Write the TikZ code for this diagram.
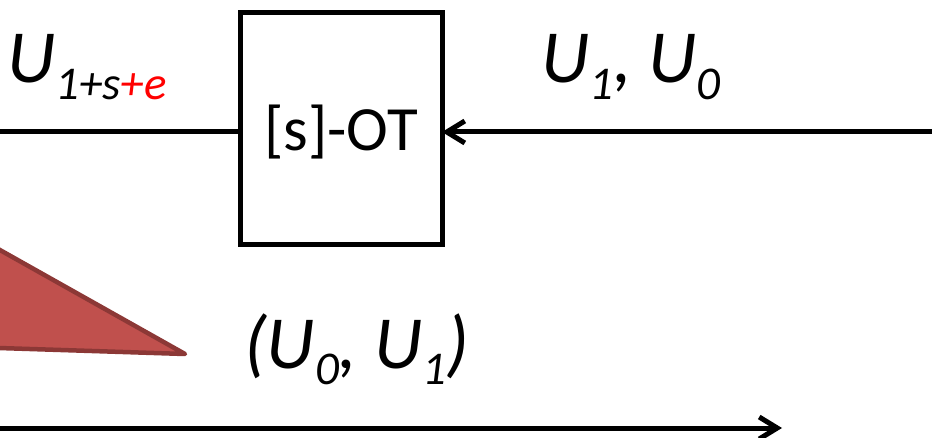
\documentclass[tikz,border=0pt]{standalone}
\usepackage{fontspec}
\setmainfont{Carlito}
\usetikzlibrary{arrows.meta}
\definecolor{trifill}{HTML}{C0504D}
\definecolor{tridraw}{HTML}{8C3836}
\newcommand\mysub[1]{\raisebox{-17pt}{\fontsize{47}{47}\selectfont #1}}
\tikzset{
  wire/.style={line width=5pt},
  wirearrow/.style={line width=5pt,-{Straight Barb[length=18pt,width=22pt]}},
  bigtxt/.style={font=\fontsize{75}{75}\selectfont\itshape,inner sep=0pt,anchor=base west},
  boxtxt/.style={font=\fontsize{63}{63}\selectfont,inner sep=0pt,anchor=base}
}
\begin{document}
\begin{tikzpicture}[x=1pt,y=-1pt]
\useasboundingbox (0,0) rectangle (932,438);
% red triangle
\draw[fill=trifill,draw=tridraw,line width=4.5pt,line join=round]
  (-20,238.8) -- (185,354) -- (-20,347.4) -- cycle;
% OT box
\node[draw,line width=5pt,minimum width=202pt,minimum height=232.5pt,inner sep=0pt,outer sep=0pt] (box) at (341,128.75) {};
\node[boxtxt] (boxlbl) at (341,151) {[s]-OT};
% connectors
\coordinate (lstart) at (-5,132);
\coordinate (rstart) at (940,132);
\draw[wire] (lstart) -- (lstart -| box.west);
\draw[wirearrow] (rstart) -- (rstart -| box.east);
\coordinate (bstart) at (-5,428);
\coordinate (bend) at (782,428);
\draw[wirearrow] (bstart) -- (bend);
% labels
\node[bigtxt] (ltxt) at (7,83) {U\mysub{1+s\textcolor{red}{+e}}};
\node[bigtxt] (rtxt) at (541,83) {U\mysub{1},\ U\mysub{0}};
\node[bigtxt] (btxt) at (244,368) {(U\mysub{0},\ U\mysub{1})};
\end{tikzpicture}
\end{document}
